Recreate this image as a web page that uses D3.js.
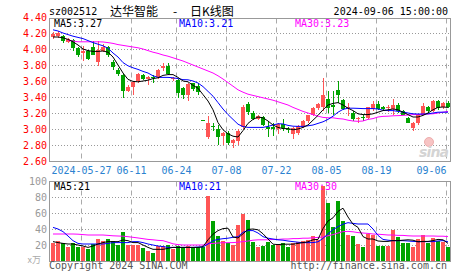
<!DOCTYPE html>
<html>
<head>
<meta charset="utf-8">
<script src="https://cdn.jsdelivr.net/npm/d3@7"></script>
<style>
body { margin: 0; background: #fff; }
svg { display: block; }
</style>
</head>
<body>
<script>
// trading days shown
var dates = [
    "2024-05-17", "2024-05-20", "2024-05-21", "2024-05-22", "2024-05-23", "2024-05-24", "2024-05-27", "2024-05-28", "2024-05-29", "2024-05-30",
    "2024-05-31", "2024-06-03", "2024-06-04", "2024-06-05", "2024-06-06", "2024-06-07", "2024-06-11", "2024-06-12", "2024-06-13", "2024-06-14",
    "2024-06-17", "2024-06-18", "2024-06-19", "2024-06-20", "2024-06-21", "2024-06-24", "2024-06-25", "2024-06-26", "2024-06-27", "2024-06-28",
    "2024-07-01", "2024-07-02", "2024-07-03", "2024-07-04", "2024-07-05", "2024-07-08", "2024-07-09", "2024-07-10", "2024-07-11", "2024-07-12",
    "2024-07-15", "2024-07-16", "2024-07-17", "2024-07-18", "2024-07-19", "2024-07-22", "2024-07-23", "2024-07-24", "2024-07-25", "2024-07-26",
    "2024-07-29", "2024-07-30", "2024-07-31", "2024-08-01", "2024-08-02", "2024-08-05", "2024-08-06", "2024-08-07", "2024-08-08", "2024-08-09",
    "2024-08-12", "2024-08-13", "2024-08-14", "2024-08-15", "2024-08-16", "2024-08-19", "2024-08-20", "2024-08-21", "2024-08-22", "2024-08-23",
    "2024-08-26", "2024-08-27", "2024-08-28", "2024-08-29", "2024-08-30", "2024-09-02", "2024-09-03", "2024-09-04", "2024-09-05", "2024-09-06"
];

var open = [
    4.15, 4.16, 4.16, 4.09, 4.11, 4.01, 3.95, 3.98, 4.02, 3.84,
    3.98, 4.03, 3.84, 3.74, 3.68, 3.48, 3.52, 3.60, 3.68, 3.62,
    3.65, 3.65, 3.76, 3.79, 3.62, 3.61, 3.51, 3.42, 3.57, 3.54,
    3.11, 2.90, 3.04, 3.00, 2.91, 2.95, 2.82, 2.85, 3.02, 3.31,
    3.20, 3.13, 3.15, 3.03, 3.02, 3.00, 3.06, 3.00, 2.94, 2.95,
    3.02, 3.10, 3.18, 3.26, 3.27, 3.37, 3.30, 3.49, 3.36, 3.26,
    3.20, 3.12, 3.15, 3.14, 3.25, 3.31, 3.27, 3.26, 3.25, 3.30,
    3.23, 3.14, 3.01, 3.07, 3.18, 3.27, 3.22, 3.35, 3.27, 3.33
];
var high = [
    4.21, 4.23, 4.17, 4.14, 4.12, 4.02, 4.04, 3.99, 4.10, 4.10,
    4.06, 4.04, 3.86, 3.76, 3.69, 3.55, 3.60, 3.70, 3.69, 3.66,
    3.67, 3.75, 3.83, 3.82, 3.65, 3.63, 3.53, 3.58, 3.58, 3.58,
    3.11, 3.16, 3.08, 3.05, 2.96, 2.97, 2.87, 3.00, 3.30, 3.34,
    3.22, 3.17, 3.16, 3.10, 3.07, 3.08, 3.12, 3.03, 3.02, 3.05,
    3.11, 3.18, 3.28, 3.33, 3.64, 3.47, 3.47, 3.60, 3.37, 3.32,
    3.22, 3.15, 3.18, 3.28, 3.35, 3.35, 3.29, 3.30, 3.38, 3.33,
    3.24, 3.15, 3.09, 3.19, 3.33, 3.29, 3.36, 3.36, 3.34, 3.35
];
var low = [
    4.13, 4.14, 4.08, 4.07, 3.97, 3.90, 3.85, 3.86, 3.92, 3.79,
    3.96, 3.90, 3.74, 3.66, 3.39, 3.46, 3.43, 3.58, 3.61, 3.55,
    3.58, 3.63, 3.72, 3.68, 3.60, 3.39, 3.37, 3.35, 3.48, 3.42,
    3.11, 2.88, 2.97, 2.80, 2.80, 2.80, 2.76, 2.80, 3.00, 3.18,
    3.11, 3.11, 3.04, 2.90, 2.91, 2.94, 2.97, 2.95, 2.87, 2.93,
    3.01, 3.08, 3.16, 3.24, 3.23, 3.20, 3.18, 3.32, 3.24, 3.16,
    3.10, 3.07, 3.10, 3.13, 3.23, 3.24, 3.23, 3.21, 3.18, 3.20,
    3.17, 3.07, 2.98, 3.05, 3.17, 3.20, 3.21, 3.24, 3.25, 3.26
];
var close = [
    4.19, 4.20, 4.10, 4.13, 4.01, 3.93, 3.97, 3.87, 3.93, 3.99,
    4.02, 3.92, 3.77, 3.69, 3.47, 3.53, 3.59, 3.69, 3.63, 3.65,
    3.64, 3.74, 3.79, 3.69, 3.64, 3.45, 3.42, 3.56, 3.50, 3.46,
    3.11, 3.07, 3.02, 2.90, 2.95, 2.82, 2.86, 2.97, 3.27, 3.21,
    3.13, 3.16, 3.05, 3.00, 3.00, 3.06, 3.01, 2.99, 3.01, 3.04,
    3.10, 3.17, 3.26, 3.31, 3.43, 3.26, 3.27, 3.42, 3.25, 3.28,
    3.12, 3.14, 3.14, 3.27, 3.31, 3.25, 3.25, 3.28, 3.30, 3.23,
    3.18, 3.08, 3.08, 3.18, 3.29, 3.22, 3.35, 3.26, 3.33, 3.27
];

// price moving averages as drawn
var ma5 = [
    4.15, 4.15, 4.14, 4.12, 4.09, 4.05, 4.00, 3.98, 3.97, 3.97,
    3.975, 3.96, 3.90, 3.80, 3.70, 3.62, 3.595, 3.59, 3.60, 3.61,
    3.63, 3.64, 3.67, 3.68, 3.68, 3.645, 3.60, 3.59, 3.545, 3.51,
    3.43, 3.35, 3.24, 3.08, 2.99, 2.94, 2.91, 2.90, 2.98, 3.07,
    3.12, 3.15, 3.14, 3.10, 3.05, 3.02, 3.005, 3.005, 2.99, 3.00,
    3.02, 3.05, 3.11, 3.17, 3.24, 3.30, 3.32, 3.33, 3.30, 3.26,
    3.23, 3.19, 3.18, 3.18, 3.19, 3.21, 3.23, 3.24, 3.25, 3.24,
    3.21, 3.18, 3.15, 3.15, 3.17, 3.20, 3.24, 3.27, 3.275, 3.27
];
var ma10 = [
    4.24, 4.225, 4.20, 4.18, 4.16, 4.145, 4.13, 4.105, 4.08, 4.06,
    4.04, 4.01, 3.95, 3.90, 3.83, 3.79, 3.765, 3.745, 3.72, 3.70,
    3.665, 3.645, 3.645, 3.645, 3.64, 3.63, 3.617, 3.615, 3.60, 3.575,
    3.53, 3.47, 3.41, 3.33, 3.25, 3.18, 3.12, 3.06, 3.03, 3.02,
    3.02, 3.02, 3.02, 3.033, 3.05, 3.066, 3.063, 3.045, 3.035, 3.033,
    3.033, 3.04, 3.05, 3.07, 3.09, 3.12, 3.16, 3.21, 3.245, 3.26,
    3.26, 3.258, 3.255, 3.255, 3.255, 3.25, 3.235, 3.23, 3.23, 3.22,
    3.212, 3.20, 3.19, 3.187, 3.187, 3.19, 3.20, 3.21, 3.21, 3.21
];
var ma30 = [
    null, null, null, 4.11, 4.10, 4.09, 4.09, 4.09, 4.09, 4.09,
    4.088, 4.08, 4.07, 4.055, 4.045, 4.035, 4.025, 4.015, 4.00, 3.98,
    3.96, 3.945, 3.925, 3.91, 3.89, 3.87, 3.85, 3.825, 3.80, 3.775,
    3.75, 3.725, 3.70, 3.665, 3.625, 3.58, 3.535, 3.49, 3.46, 3.435,
    3.42, 3.405, 3.39, 3.375, 3.36, 3.34, 3.32, 3.30, 3.27, 3.245,
    3.22, 3.20, 3.18, 3.16, 3.145, 3.14, 3.14, 3.13, 3.125, 3.11,
    3.10, 3.096, 3.10, 3.12, 3.13, 3.15, 3.158, 3.16, 3.165, 3.167,
    3.17, 3.175, 3.18, 3.18, 3.185, 3.187, 3.19, 3.20, 3.21, 3.22
];

// volume, in 万手
var vol = [
    23, 25, 23, 18, 23, 17.5, 17.5, 14.5, 21.5, 28,
    24.5, 28, 25, 20, 36.7, 19.8, 20, 20, 16.8, 13,
    10.4, 18.75, 18.75, 20, 14.6, 18.75, 17, 18.75, 17, 17.9,
    17, 81.7, 50.4, 31.25, 25.4, 22, 20.5, 45, 58.75, 51.25,
    24, 17.5, 19, 24, 20, 21.5, 22.5, 17.5, 22.5, 24,
    25.5, 26.5, 31, 26, 93.75, 72.5, 42.5, 75.4, 50.5, 32.5,
    31.25, 21.25, 17.9, 33.75, 33, 18.75, 18.75, 18.75, 38.75, 29.6,
    22.9, 22.9, 17.1, 27.1, 32.5, 22.9, 28.3, 25.4, 24.2, 17.1
];
var vma5 = [
    24.2, 23, 22, 21.25, 21.25, 20, 18.75, 17, 18.75, 21.25,
    23, 24.2, 24.2, 24.2, 26.25, 25.4, 23, 23, 20, 17,
    14.6, 14.6, 14.6, 15.8, 17, 17, 17, 17, 17, 17,
    17.9, 26.5, 33.5, 38, 40.5, 41, 30, 28.8, 34, 39.5,
    40, 39, 34, 27.5, 21, 20.5, 21, 21, 21, 22,
    23, 24, 26.5, 27, 40.5, 50, 54, 62, 66, 55,
    46, 42, 30.5, 27.5, 27.5, 25, 24.5, 24.5, 25.5, 25.5,
    26, 26.5, 26, 24, 24.5, 24.5, 25.5, 27, 26.5, 22
];
var vma10 = [
    42, 40, 36.7, 31.25, 25.4, 22, 21.25, 21.25, 21.25, 21.25,
    21.25, 22, 23, 23, 23, 23, 24.2, 24.2, 23, 21.25,
    20, 18.75, 18, 17, 17, 17, 17, 17, 17, 17.5,
    17.5, 21.25, 25.4, 27, 27.9, 28.5, 29.6, 30.4, 36, 38,
    38, 35, 30.4, 28.5, 27.5, 26.5, 26, 25, 24.2, 23.5,
    22.9, 22.9, 23, 24, 28.3, 34, 39, 43, 46, 47.9,
    47, 46.25, 46.25, 46.25, 40, 32, 27, 26, 25.4, 25.4,
    25.4, 25, 24.5, 24.2, 24.2, 24.2, 24.2, 25, 25.5, 24
];
var vma30 = [
    33.75, 33.75, 33.75, 33.75, 33.75, 33.5, 33, 32.5, 32.5, 32.5,
    32.5, 32, 31.5, 31.25, 31, 30.4, 29.6, 28.8, 27.9, 27,
    26.5, 25.8, 25.4, 23.5, 21.5, 20.5, 20, 20, 20, 20,
    20, 21.5, 22, 22.5, 22.9, 22.9, 23, 23.5, 24.2, 25,
    26, 26.5, 26.5, 26.5, 27, 27, 27.5, 27.5, 28, 28,
    28.5, 28.5, 29, 29.5, 30, 31.5, 33, 35, 36.7, 37,
    36.5, 35.5, 35, 34.5, 33.75, 33.5, 33, 32.5, 32.5, 32,
    32, 31.5, 31.25, 31.25, 31.25, 31.25, 31.25, 31, 31, 30.5
];

var priceTicks = [4.40, 4.20, 4.00, 3.80, 3.60, 3.40, 3.20, 3.00, 2.80, 2.60];
var volTicks = [100, 80, 60, 40, 20];
var dateTicks = ["2024-05-27", "2024-06-11", "2024-06-24", "2024-07-08", "2024-07-22", "2024-08-05", "2024-08-19", "2024-09-06"];
var dateLabels = ["2024-05-27", "06-11", "06-24", "07-08", "07-22", "08-05", "08-19", "09-06"];

var RED = "#ff5555", GREEN = "#00a300";
var mono = "'DejaVu Sans Mono', monospace";
var cjk = "'Noto Sans CJK SC', sans-serif";

var svg = d3.select("body").append("svg").attr("width", 472).attr("height", 273);

var x = d3.scalePoint().domain(dates).range([51, 446]);
var y = d3.scaleLinear().domain([2.6, 4.4]).range([161, 17]);
var yv = d3.scaleLinear().domain([0, 100]).range([261, 181]);

function upColor(i) {
    if (close[i] > open[i]) return RED;
    if (close[i] < open[i]) return GREEN;
    return (i > 0 && close[i] < close[i - 1]) ? GREEN : RED;
}

// horizontal dotted grid
function hgrid(scale, vals) {
    var g = svg.append("g").attr("transform", "translate(49,0)")
        .call(d3.axisRight(scale).tickValues(vals).tickSize(401).tickFormat(""));
    g.select(".domain").remove();
    g.selectAll("line").attr("stroke", "#999").attr("stroke-dasharray", "1,2");
}
hgrid(y, priceTicks.slice(1, -1));
hgrid(yv, volTicks.slice(1));

// vertical dashed grid
[[18.5, 161.5], [181.5, 261.5]].forEach(function (p) {
    svg.append("g").selectAll("line").data(dateTicks).enter().append("line")
        .attr("x1", function (d) { return x(d) + 0.5; })
        .attr("x2", function (d) { return x(d) + 0.5; })
        .attr("y1", p[0]).attr("y2", p[1])
        .attr("stroke", "#aaa").attr("stroke-dasharray", "5,4");
});

// frames
svg.append("rect").attr("x", 49.5).attr("y", 18.5).attr("width", 401).attr("height", 143)
    .attr("fill", "none").attr("stroke", "#999");
svg.append("rect").attr("x", 49.5).attr("y", 181.5).attr("width", 401).attr("height", 80)
    .attr("fill", "none").attr("stroke", "#999");

// sina watermark
svg.append("circle").attr("cx", 429).attr("cy", 142).attr("r", 4.5)
    .attr("fill", "#f7c4c4").attr("stroke", "#e8a0a0").attr("stroke-width", 0.8);
svg.append("text").attr("x", 419).attr("y", 157).attr("textLength", 30)
    .style("font", "bold italic 14px 'DejaVu Sans', sans-serif").attr("fill", "#d4d4d4").text("sina");

// candles
var idx = d3.range(dates.length);
var cg = svg.append("g");
cg.selectAll(".wick").data(idx).enter().append("rect").attr("class", "wick")
    .attr("x", function (i) { return x(dates[i]) + 2; })
    .attr("width", 1)
    .attr("y", function (i) { return Math.round(y(high[i])); })
    .attr("height", function (i) { return Math.max(1, Math.round(y(low[i])) - Math.round(y(high[i]))); })
    .attr("fill", upColor);
cg.selectAll(".body").data(idx).enter().append("rect").attr("class", "body")
    .attr("x", function (i) { return x(dates[i]); })
    .attr("width", 4)
    .attr("y", function (i) { return Math.round(y(Math.max(open[i], close[i]))); })
    .attr("height", function (i) {
        return Math.max(1, Math.round(y(Math.min(open[i], close[i]))) - Math.round(y(Math.max(open[i], close[i]))));
    })
    .attr("fill", upColor);

// volume bars
svg.append("g").selectAll("rect").data(idx).enter().append("rect")
    .attr("x", function (i) { return x(dates[i]); })
    .attr("width", 4)
    .attr("y", function (i) { return Math.round(yv(vol[i])); })
    .attr("height", function (i) { return 261 - Math.round(yv(vol[i])); })
    .attr("fill", upColor);

// moving average lines
function maLine(arr, scale, color) {
    var line = d3.line()
        .defined(function (i) { return arr[i] != null; })
        .x(function (i) { return x(dates[i]) + 2; })
        .y(function (i) { return scale(arr[i]); });
    svg.append("path").datum(idx).attr("d", line)
        .attr("fill", "none").attr("stroke", color).attr("stroke-width", 1);
}
maLine(ma30, y, "#ff00ff");
maLine(ma10, y, "#0000ff");
maLine(ma5, y, "#000");
maLine(vma30, yv, "#ff00ff");
maLine(vma10, yv, "#0000ff");
maLine(vma5, yv, "#000");

// price axis labels
var ay = svg.append("g").attr("transform", "translate(47,0)")
    .call(d3.axisLeft(y).tickValues(priceTicks).tickSize(0).tickPadding(0).tickFormat(d3.format(".2f")));
ay.select(".domain").remove();
ay.selectAll("text").attr("fill", "#ff0000").style("font", "10px " + mono);

// volume axis labels
var av = svg.append("g").attr("transform", "translate(47,0)")
    .call(d3.axisLeft(yv).tickValues(volTicks).tickSize(0).tickPadding(0));
av.select(".domain").remove();
av.selectAll("text").attr("fill", "#999").style("font", "10px " + mono);

// date labels
var ax = svg.append("g").attr("transform", "translate(0,167)")
    .call(d3.axisBottom(x).tickValues(dateTicks).tickSize(0).tickPadding(0)
        .tickFormat(function (d, i) { return dateLabels[i]; }));
ax.select(".domain").remove();
ax.selectAll("text").attr("fill", "#2a82d0").style("font", "10px " + mono);
ax.selectAll("text").filter(function (d, i) { return i === dateTicks.length - 1; })
    .attr("text-anchor", "end");

// titles
function txt(s, px, py, color, font, anchor) {
    svg.append("text").attr("x", px).attr("y", py).attr("fill", color)
        .attr("text-anchor", anchor || "start").style("font", font).text(s);
}
txt("sz002512", 49, 15, "#000", "10px " + mono);
txt("达华智能", 110, 16, "#000", "12px " + cjk);
txt("-", 173, 16, "#000", "12px " + cjk);
txt("日K线图", 190, 16, "#000", "12px " + cjk);
txt("2024-09-06 15:00:00", 448, 15, "#000", "10px " + mono, "end");

txt("MA5:3.27", 54, 27, "#000", "10px " + mono);
txt("MA10:3.21", 179, 27, "#0000ff", "10px " + mono);
txt("MA30:3.23", 295, 27, "#ff00ff", "10px " + mono);
txt("MA5:21", 54, 190, "#000", "10px " + mono);
txt("MA10:21", 179, 190, "#0000ff", "10px " + mono);
txt("MA30:30", 295, 190, "#ff00ff", "10px " + mono);

txt("x万", 41, 263, "#aaa", "9px " + cjk, "end");
txt("Copyright 2024 SINA.COM", 49, 269, "#555", "10px " + mono);
txt("http://finance.sina.com.cn", 447, 269, "#555", "10px " + mono, "end");
</script>
</body>
</html>
